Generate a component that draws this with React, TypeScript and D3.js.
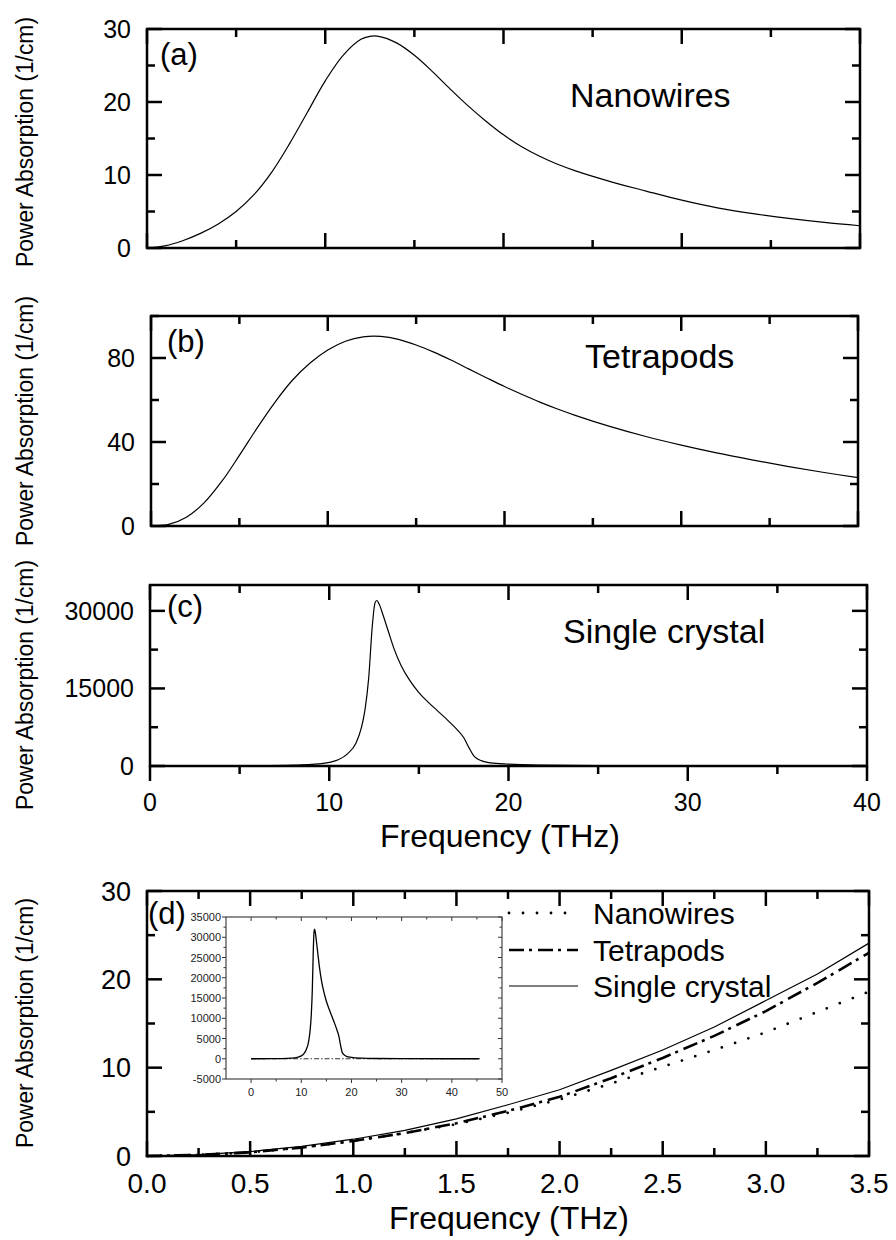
import React from 'react';
import * as d3 from 'd3';

const FONT = '"Liberation Sans", Arial, Helvetica, sans-serif';

// ---------- data ----------
// (a) Nanowires, 0-40 THz
const nanoFreq = [0,1,2,3,4,5,6,7,8,9,10,11,12,12.5,13,14,15,16,17,18,19,20,21,22,23,24,26,28,30,32,34,36,38,40];
const nanoAbs = [0,0.3,1.0,2.0,3.3,5.0,7.3,10.4,14.3,18.6,22.9,26.4,28.6,29.0,29.0,28.1,26.4,24.2,21.8,19.5,17.4,15.5,13.9,12.6,11.5,10.6,9.1,7.8,6.55,5.5,4.7,4.05,3.5,3.05];
// (b) Tetrapods
const tetraFreq = [0,1,2,3,4,5,6,7,8,9,10,11,12,13,14,15,16,17,18,19,20,21,22,23,24,26,28,30,32,34,36,38,40];
const tetraAbs = [0,0.8,4.2,11.0,21.2,33.6,46.6,58.8,69.4,77.6,83.8,88.0,90.1,90.3,88.9,86.2,82.8,78.9,74.7,70.5,66.4,62.6,59.0,55.7,52.7,47.3,42.6,38.5,34.8,31.5,28.4,25.6,23.0];
// (c) Single crystal
const crystalFreq = [0,4,6,8,9,10,10.5,11,11.5,11.8,12.0,12.2,12.4,12.55,12.65,12.8,13.0,13.3,13.6,14.0,14.5,15.0,15.5,16.0,16.5,17.0,17.5,17.8,18.1,18.5,19,20,22,25,30,40];
const crystalAbs = [0,10,40,150,300,700,1200,2300,4500,7500,11000,17000,27000,31500,32000,31200,29200,26000,22800,19500,16500,14200,12400,10800,9200,7500,5500,3500,1800,1000,600,350,150,60,20,5];
// inset extension of the single-crystal curve and flat low-absorption curves
const crystalTailFreq = [42, 45.5];
const crystalTailAbs = [3, 2];
const insetFlatFreq = [0, 45.5];
const insetFlatAbs = [0, 0];
// (d) low-frequency comparison
const lowFreq = [0,0.25,0.5,0.75,1.0,1.25,1.5,1.75,2.0,2.25,2.5,2.75,3.0,3.25,3.5];
const lowNano = [0,0.12,0.42,0.95,1.7,2.6,3.6,4.9,6.4,8.2,10.1,12.0,14.0,16.3,18.6];
const lowTetra = [0,0.12,0.42,0.95,1.7,2.6,3.7,5.1,6.7,8.8,11.1,13.6,16.4,19.6,23.0];
const lowCrystal = [0,0.15,0.5,1.1,1.9,2.9,4.2,5.8,7.5,9.7,12.0,14.6,17.6,20.6,24.1];

// tick values
const topXMajor = [0,10,20,30,40];
const topXMinor = [5,15,25,35];
const aYMajor = [0,10,20,30];
const aYMinor = [5,15,25];
const bYMajor = [0,40,80];
const bYMinor = [20,60,100];
const cYMajor = [0,15000,30000];
const cYMinor = [7500,22500];
const dXMajor = [0,0.5,1.0,1.5,2.0,2.5,3.0,3.5];
const dXMinor = [0.25,0.75,1.25,1.75,2.25,2.75,3.25];
const dYMajor = [0,10,20,30];
const dYMinor = [5,15,25];
const insetYTicks = [-5000,0,5000,10000,15000,20000,25000,30000,35000];
const insetYMinor = [-2500,2500,7500,12500,17500,22500,27500,32500];
const insetXTicks = [0,10,20,30,40,50];
const insetXMinor = [5,15,25,35,45];

const panelTitles = ['Nanowires', 'Tetrapods', 'Single crystal'];
const panelLetters = ['(a)', '(b)', '(c)', '(d)'];
const legendNames = ['Nanowires', 'Tetrapods', 'Single crystal'];
const yTitle = 'Power Absorption (1/cm)';
const xTitle = 'Frequency (THz)';

type Sc = d3.ScaleLinear<number, number>;

const zip = (xs: number[], ys: number[]) => xs.map((x, i) => [x, ys[i]] as [number, number]);

function Frame({ x, y, sw = 2.5, stroke = '#000' }: { x: Sc; y: Sc; sw?: number; stroke?: string }) {
  const [x0, x1] = x.range();
  const [y0, y1] = y.range();
  return <rect x={x0} y={y1} width={x1 - x0} height={y0 - y1} fill="none" stroke={stroke} strokeWidth={sw} />;
}

function Ticks({ x, y, xMajor, xMinor, yMajor, yMinor, maj = 15, min = 8, sw = 2.5, bottomOut = false }:
  { x: Sc; y: Sc; xMajor: number[]; xMinor: number[]; yMajor: number[]; yMinor: number[]; maj?: number; min?: number; sw?: number; bottomOut?: boolean }) {
  const [x0, x1] = x.range();
  const [yb, yt] = y.range();
  const els: React.ReactNode[] = [];
  const addX = (v: number, len: number, k: string) => {
    const px = x(v);
    els.push(<line key={'b' + k} x1={px} x2={px} y1={yb} y2={bottomOut ? yb + len : yb - len} />);
    els.push(<line key={'t' + k} x1={px} x2={px} y1={yt} y2={yt + len} />);
  };
  const addY = (v: number, len: number, k: string) => {
    const py = y(v);
    els.push(<line key={'l' + k} x1={x0} x2={x0 + len} y1={py} y2={py} />);
    els.push(<line key={'r' + k} x1={x1} x2={x1 - len} y1={py} y2={py} />);
  };
  xMajor.forEach((v, i) => addX(v, maj, 'M' + i));
  xMinor.forEach((v, i) => addX(v, min, 'm' + i));
  yMajor.forEach((v, i) => addY(v, maj, 'M' + i));
  yMinor.forEach((v, i) => addY(v, min, 'm' + i));
  return <g stroke="#000" strokeWidth={sw}>{els}</g>;
}

function YLabels({ x, y, values, size = 25 }: { x: Sc; y: Sc; values: number[]; size?: number }) {
  const x0 = x.range()[0];
  return (
    <g fontSize={size} textAnchor="end">
      {values.map((v) => (
        <text key={v} x={x0 - 16} y={y(v) + size * 0.36}>{String(v)}</text>
      ))}
    </g>
  );
}

export default function App() {
  // panel scales
  const xa = d3.scaleLinear().domain([0, 40]).range([147, 860]);
  const ya = d3.scaleLinear().domain([0, 30]).range([248, 29]);
  const xb = d3.scaleLinear().domain([0, 40]).range([151, 858]);
  const yb = d3.scaleLinear().domain([0, 100]).range([526, 316]);
  const xc = d3.scaleLinear().domain([0, 40]).range([150, 867]);
  const yc = d3.scaleLinear().domain([0, 35000]).range([766, 585]);
  const xd = d3.scaleLinear().domain([0, 3.5]).range([147, 869]);
  const yd = d3.scaleLinear().domain([0, 30]).range([1156, 891]);
  const xi = d3.scaleLinear().domain([-5, 50]).range([226, 502]);
  const yi = d3.scaleLinear().domain([-5000, 35000]).range([1079, 917]);

  const lineOf = (x: Sc, y: Sc, curve: d3.CurveFactory = d3.curveMonotoneX) =>
    d3.line<[number, number]>().x((d) => x(d[0])).y((d) => y(d[1])).curve(curve);

  const smooth = d3.curveCatmullRom.alpha(0.5);
  const pathA = lineOf(xa, ya, smooth)(zip(nanoFreq, nanoAbs)) || '';
  const pathB = lineOf(xb, yb, smooth)(zip(tetraFreq, tetraAbs)) || '';
  const pathC = lineOf(xc, yc)(zip(crystalFreq, crystalAbs)) || '';
  const pathDN = lineOf(xd, yd, d3.curveLinear)(zip(lowFreq, lowNano)) || '';
  const pathDT = lineOf(xd, yd, d3.curveLinear)(zip(lowFreq, lowTetra)) || '';
  const pathDC = lineOf(xd, yd, d3.curveLinear)(zip(lowFreq, lowCrystal)) || '';
  const pathI = lineOf(xi, yi)(zip(crystalFreq.concat(crystalTailFreq), crystalAbs.concat(crystalTailAbs))) || '';
  const pathIflat = lineOf(xi, yi, d3.curveLinear)(zip(insetFlatFreq, insetFlatAbs)) || '';

  const lineStyle = { fill: 'none', stroke: '#000' } as const;
  const dotted = { strokeWidth: 2.8, strokeDasharray: '0 14', strokeLinecap: 'round' as const };
  const dashDot = { strokeWidth: 2.6, strokeDasharray: '15 5 3 6' };
  const legendStyles = [dotted, dashDot, { strokeWidth: 1.2 }];
  const legendY = [913, 950, 986];

  const ix0 = xi.range()[0];
  const [iyb, iyt] = yi.range();
  const ix1 = xi.range()[1];

  const yTitleCenters = [142, 421, 685, 1023];

  return (
    <svg width={896} height={1240} style={{ position: 'absolute', left: 0, top: 0, background: '#fff' }}
      fontFamily={FONT} fill="#000">
      <rect width={896} height={1240} fill="#fff" />

      {/* y-axis titles */}
      {yTitleCenters.map((cy, i) => (
        <text key={i} transform={`translate(33,${cy}) rotate(-90)`} textAnchor="middle" fontSize={23.5}
          textLength={250} lengthAdjust="spacingAndGlyphs">{yTitle}</text>
      ))}

      {/* ---------- panel (a) ---------- */}
      <path d={pathA} {...lineStyle} strokeWidth={1.2} />
      <Ticks x={xa} y={ya} xMajor={topXMajor} xMinor={topXMinor} yMajor={aYMajor} yMinor={aYMinor} />
      <Frame x={xa} y={ya} />
      <YLabels x={xa} y={ya} values={aYMajor} />
      <text x={160} y={65} fontSize={31}>{panelLetters[0]}</text>
      <text x={570} y={107} fontSize={34}>{panelTitles[0]}</text>

      {/* ---------- panel (b) ---------- */}
      <path d={pathB} {...lineStyle} strokeWidth={1.2} />
      <Ticks x={xb} y={yb} xMajor={topXMajor} xMinor={topXMinor} yMajor={bYMajor} yMinor={bYMinor} />
      <Frame x={xb} y={yb} />
      <YLabels x={xb} y={yb} values={bYMajor} />
      <text x={167} y={352} fontSize={31}>{panelLetters[1]}</text>
      <text x={585} y={368} fontSize={34}>{panelTitles[1]}</text>

      {/* ---------- panel (c) ---------- */}
      <path d={pathC} {...lineStyle} strokeWidth={1.2} />
      <Ticks x={xc} y={yc} xMajor={topXMajor} xMinor={topXMinor} yMajor={cYMajor} yMinor={cYMinor} bottomOut />
      <Frame x={xc} y={yc} />
      <YLabels x={xc} y={yc} values={cYMajor} />
      <g fontSize={25} textAnchor="middle">
        {topXMajor.map((v) => (
          <text key={v} x={xc(v)} y={811}>{v}</text>
        ))}
      </g>
      <text x={167} y={617} fontSize={31}>{panelLetters[2]}</text>
      <text x={563} y={643} fontSize={34}>{panelTitles[2]}</text>
      <text x={500} y={847} fontSize={32} textAnchor="middle">{xTitle}</text>

      {/* ---------- panel (d) ---------- */}
      <path d={pathDN} {...lineStyle} {...dotted} />
      <path d={pathDT} {...lineStyle} {...dashDot} />
      <path d={pathDC} {...lineStyle} strokeWidth={1.2} />
      <Ticks x={xd} y={yd} xMajor={dXMajor} xMinor={dXMinor} yMajor={dYMajor} yMinor={dYMinor} />
      <Frame x={xd} y={yd} />
      <YLabels x={xd} y={yd} values={dYMajor} size={27} />
      <g fontSize={28} textAnchor="middle">
        {dXMajor.map((v) => (
          <text key={v} x={xd(v)} y={1193}>{v.toFixed(1)}</text>
        ))}
      </g>
      <text x={509} y={1229} fontSize={32} textAnchor="middle">{xTitle}</text>
      <text x={148} y={924} fontSize={31}>{panelLetters[3]}</text>

      {/* legend */}
      {legendNames.map((n, i) => (
        <g key={n}>
          <line x1={509} x2={578} y1={legendY[i]} y2={legendY[i]} stroke="#000" {...legendStyles[i]} />
          <text x={593} y={legendY[i] + 10.5} fontSize={30}>{n}</text>
        </g>
      ))}

      {/* inset */}
      <rect x={ix0} y={iyt} width={ix1 - ix0} height={iyb - iyt} fill="#fff" />
      <path d={pathIflat} fill="none" stroke="#333" strokeWidth={1} strokeDasharray="5 2 1.5 2" />
      <path d={pathI} fill="none" stroke="#000" strokeWidth={1.3} />
      <g stroke="#333" strokeWidth={1}>
        {insetYTicks.map((v) => (
          <g key={'iy' + v}>
            <line x1={ix0 - 4} x2={ix0} y1={yi(v)} y2={yi(v)} />
            <line x1={ix1 - 4} x2={ix1} y1={yi(v)} y2={yi(v)} />
          </g>
        ))}
        {insetYMinor.map((v) => (
          <g key={'iym' + v}>
            <line x1={ix0 - 2.5} x2={ix0} y1={yi(v)} y2={yi(v)} />
            <line x1={ix1 - 2.5} x2={ix1} y1={yi(v)} y2={yi(v)} />
          </g>
        ))}
        {insetXTicks.map((v) => (
          <g key={'ix' + v}>
            <line x1={xi(v)} x2={xi(v)} y1={iyb} y2={iyb + 4} />
            <line x1={xi(v)} x2={xi(v)} y1={iyt} y2={iyt + 4} />
          </g>
        ))}
        {insetXMinor.map((v) => (
          <g key={'ixm' + v}>
            <line x1={xi(v)} x2={xi(v)} y1={iyb} y2={iyb + 2.5} />
            <line x1={xi(v)} x2={xi(v)} y1={iyt} y2={iyt + 2.5} />
          </g>
        ))}
      </g>
      <rect x={ix0} y={iyt} width={ix1 - ix0} height={iyb - iyt} fill="none" stroke="#444" strokeWidth={1.2} />
      <g fontSize={11} textAnchor="end" fill="#222">
        {insetYTicks.map((v) => (
          <text key={v} x={ix0 - 5} y={yi(v) + 4}>{v}</text>
        ))}
      </g>
      <g fontSize={11} textAnchor="middle" fill="#222">
        {insetXTicks.map((v) => (
          <text key={v} x={xi(v)} y={iyb + 17}>{v}</text>
        ))}
      </g>
    </svg>
  );
}
